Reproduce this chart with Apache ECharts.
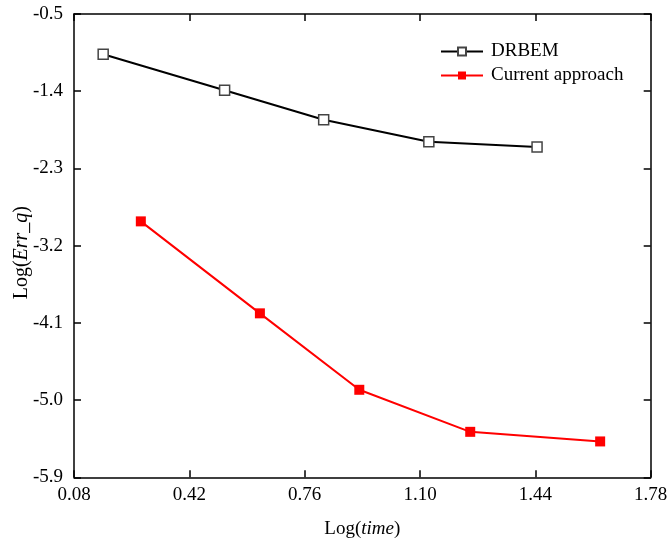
<!DOCTYPE html>
<html><head><meta charset="utf-8">
<script src="https://cdn.jsdelivr.net/npm/echarts@6/dist/echarts.min.js"></script>
<style>html,body{margin:0;padding:0;background:#fff}#c{width:667px;height:545px}</style>
</head><body><div id="c"></div>
<script>
const drbemX = [0.166, 0.524, 0.816, 1.126, 1.445];
const drbemY = [-0.97, -1.389, -1.732, -1.989, -2.05];
const currentX = [0.277, 0.628, 0.921, 1.248, 1.631];
const currentY = [-2.917, -3.989, -4.88, -5.37, -5.482];
const xTicks = [0.08, 0.42, 0.76, 1.10, 1.44, 1.78];
const yTicks = [-5.9, -5.0, -4.1, -3.2, -2.3, -1.4, -0.5];

const F = 'Liberation Serif, Times New Roman, serif';
const FS = 19;
const pair = (xs, ys) => xs.map((x, i) => [x, ys[i]]);
const fmtX = v => v.toFixed(2);
const fmtY = v => v.toFixed(1);
const axisCommon = {
  axisLine: {show: true, lineStyle: {color: '#000', width: 1.5}},
  axisTick: {show: true, inside: true, length: 7, lineStyle: {color: '#000', width: 1.5}},
  splitLine: {show: false}
};
const chart = echarts.init(document.getElementById('c'));
chart.setOption({
  backgroundColor: '#fff',
  animation: false,
  grid: {left: 74, top: 14, right: 16.3, bottom: 67.7, containLabel: false, outerBoundsMode: 'none'},
  legend: {
    left: 435, top: 37, orient: 'vertical', itemGap: 5,
    itemWidth: 42, itemHeight: 10,
    textStyle: {fontFamily: F, fontSize: FS, color: '#000', padding: [0, 0, 0, 3]},
    data: ['DRBEM', 'Current approach']
  },
  xAxis: [{
    type: 'value', min: xTicks[0], max: xTicks[xTicks.length - 1], interval: 0.34,
    name: 'Log({i|time})', nameLocation: 'middle', nameGap: 42, nameMoveOverlap: false,
    nameTextStyle: {fontFamily: F, fontSize: FS, color: '#000',
      rich: {i: {fontFamily: F, fontSize: FS, fontStyle: 'italic', color: '#000'}}},
    axisLabel: {fontFamily: F, fontSize: FS, color: '#000', margin: 8, formatter: fmtX},
    ...axisCommon
  }, {
    type: 'value', position: 'top', min: xTicks[0], max: xTicks[xTicks.length - 1], interval: 0.34,
    axisLabel: {show: false}, ...axisCommon
  }],
  yAxis: [{
    type: 'value', min: yTicks[0], max: yTicks[yTicks.length - 1], interval: 0.9,
    name: 'Log({i|Err_q})', nameLocation: 'middle', nameGap: 42, nameRotate: 90, nameMoveOverlap: false,
    nameTextStyle: {fontFamily: F, fontSize: 20, color: '#000', padding: [0, 14, 0, 0],
      rich: {i: {fontFamily: F, fontSize: 20, fontStyle: 'italic', color: '#000'}}},
    axisLabel: {fontFamily: F, fontSize: FS, color: '#000', margin: 11, formatter: fmtY},
    ...axisCommon
  }, {
    type: 'value', position: 'right', min: yTicks[0], max: yTicks[yTicks.length - 1], interval: 0.9,
    axisLabel: {show: false}, ...axisCommon
  }],
  series: [{
    name: 'DRBEM', type: 'line', data: pair(drbemX, drbemY),
    symbol: 'rect', symbolSize: 10, showAllSymbol: true,
    lineStyle: {color: '#000', width: 2},
    itemStyle: {color: '#fff', borderColor: '#444', borderWidth: 1.5}
  }, {
    name: 'Current approach', type: 'line', data: pair(currentX, currentY),
    symbol: 'rect', symbolSize: 10, showAllSymbol: true,
    lineStyle: {color: '#ff0000', width: 2},
    itemStyle: {color: '#ff0000', borderColor: '#ff0000', borderWidth: 0}
  }]
});
</script></body></html>
